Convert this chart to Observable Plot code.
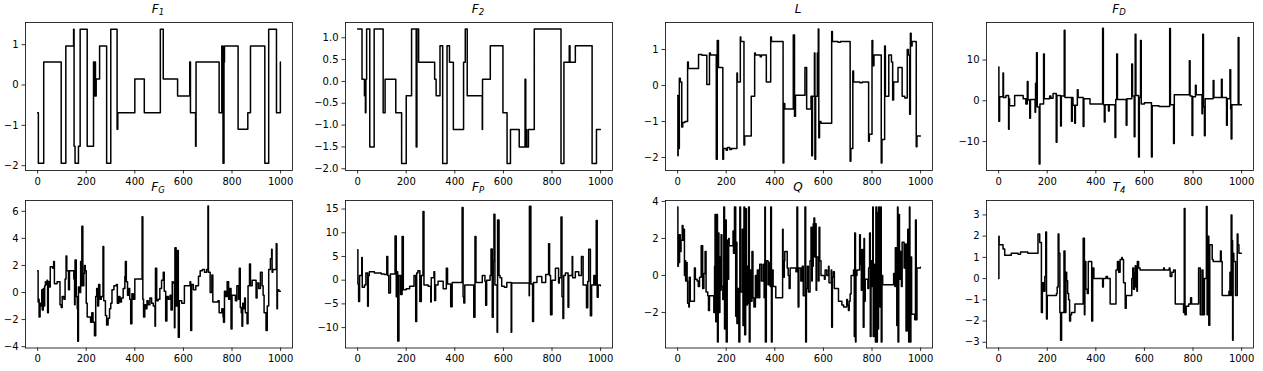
<!DOCTYPE html>
<html><head><meta charset="utf-8">
<script src="https://cdn.jsdelivr.net/npm/d3@7"></script>
<script src="https://cdn.jsdelivr.net/npm/@observablehq/plot@0.6"></script>
<style>
body{margin:0;background:#fff;}
#fig{position:relative;width:1263px;height:371px;overflow:hidden;background:#fff;font-family:"DejaVu Sans",sans-serif;}
.panel{position:absolute;}
.title{position:absolute;width:267px;font-size:12px;line-height:14px;text-align:center;font-family:"DejaVu Sans",sans-serif;color:#000;white-space:nowrap;}
.title i{font-style:italic;}
.title sub{font-size:8.5px;vertical-align:baseline;position:relative;top:2.5px;font-style:italic;}
</style></head><body><div id="fig"></div><script>
// ---------- data: [time, value] breakpoints ----------
const xTicks = [0, 200, 400, 600, 800, 1000];

const F1 = [[0,-0.69],[3,-1.94],[25,0.57],[97,-1.94],[116,0.97],[148,1.38],[150,-1.52],[154,-1.94],[168,-1.52],[175,1.38],[204,-1.52],[230,0.57],[233,-0.27],[236,0.57],[238,-0.27],[241,0.15],[255,0.97],[284,-1.94],[301,1.38],[327,-1.1],[330,-0.69],[400,0.15],[439,-0.69],[505,1.38],[517,0.15],[576,-0.27],[626,0.57],[629,-0.69],[650,-1.52],[652,0.57],[747,-0.69],[758,0.97],[763,-1.94],[767,0.57],[769,0.97],[825,-1.1],[865,-0.69],[876,0.97],[935,-1.94],[951,1.38],[983,-0.69],[999,0.57]];

const F2 = [[0,1.2],[18,0.05],[28,-0.33],[32,-0.72],[34,0.05],[37,1.2],[50,-1.5],[68,1.2],[105,-0.72],[113,0.05],[157,-0.72],[181,-1.88],[200,-0.33],[222,1.2],[241,-1.5],[244,1.2],[251,0.44],[317,0.05],[323,-0.33],[339,0.82],[350,-1.88],[368,0.82],[378,0.44],[394,-1.1],[436,0.44],[443,1.2],[451,-0.33],[513,-1.1],[514,0.05],[546,0.82],[598,-0.72],[615,-1.88],[629,-1.1],[665,-1.5],[689,0.05],[692,-1.5],[694,-1.1],[696,-1.5],[703,-1.1],[727,1.2],[837,-1.88],[849,0.44],[871,0.82],[874,0.44],[896,0.82],[965,-1.88],[983,-1.1],[999,-1.1]];

const L = [[0,-0.28],[1,-1.95],[2,-0.5],[4,-1.75],[7,0.2],[11,0.1],[17,-1.15],[21,-1.03],[30,-1.0],[41,0.65],[44,0.47],[86,0.86],[100,0.84],[120,0.03],[131,0.9],[135,0.85],[159,-2.05],[163,1.25],[168,0.5],[186,-2.05],[189,-1.75],[200,-1.8],[205,-1.72],[215,-1.78],[222,-1.75],[244,0.35],[246,0.1],[258,1.35],[260,1.22],[273,-1.65],[276,-1.4],[303,-0.3],[317,0.9],[320,0.85],[340,0.8],[345,0.85],[365,0.1],[383,1.35],[386,1.22],[434,-2.15],[437,-0.5],[441,-0.65],[476,1.4],[481,-0.85],[485,-0.27],[524,0.5],[531,-0.65],[549,-0.3],[552,-1.95],[555,-0.3],[563,0.9],[565,-2.05],[568,-0.3],[575,0.9],[579,1.57],[581,-1.45],[584,-1.0],[590,-1.05],[634,1.5],[637,1.22],[660,1.2],[670,1.22],[710,-2.1],[713,-1.75],[721,0.4],[724,0.1],[750,0.08],[760,0.1],[786,-1.55],[789,-1.35],[800,1.25],[803,0.55],[808,0.85],[838,-2.15],[841,-1.5],[852,1.1],[855,-0.3],[869,0.85],[880,0.65],[885,-0.4],[889,0.1],[907,0.5],[924,-0.3],[935,-0.35],[945,1.0],[950,0.85],[955,-0.8],[958,1.45],[961,1.1],[965,1.22],[982,-1.7],[985,-1.4],[999,-1.4]];

const FD = [[0,8.3],[1,-5],[4,1],[18,6.8],[20,0.8],[30,1.3],[41,-7],[43,0.5],[45,-1.2],[66,1.3],[101,0.5],[112,-0.8],[118,4.7],[121,0.2],[128,-4.3],[131,0.3],[150,-2.8],[152,4.3],[154,-1.2],[156,11.8],[159,-1.5],[167,-15.5],[170,-0.8],[185,11.5],[188,0.5],[210,1.2],[215,0.6],[224,1.8],[237,-10.2],[240,1.3],[255,-6.2],[258,1.2],[270,17.3],[273,0.8],[300,-5],[303,0.8],[306,-1.1],[313,-5.5],[316,-1.1],[324,2.7],[327,0.8],[348,-6.3],[351,0.5],[376,-0.8],[428,17.8],[431,-1.0],[435,-5.2],[438,-1.0],[452,-2.5],[455,-1.0],[479,-9],[482,0.3],[486,11.5],[489,0.3],[525,-6],[528,0.5],[548,9],[551,1.2],[558,-8.8],[561,1.2],[562,16.3],[565,1.3],[576,-13.8],[579,0.8],[584,14.8],[587,-0.8],[600,-0.5],[629,-13.8],[632,-1.2],[660,-1.4],[704,17.7],[707,-1.0],[720,-10.5],[723,1.5],[785,9.8],[788,1.2],[796,-8.5],[799,1.0],[810,3.8],[813,1.5],[837,-3.2],[839,1.0],[840,16.3],[843,-1.5],[847,-8.6],[850,0.5],[883,5.0],[886,0.8],[917,5.3],[920,0.8],[938,-6],[941,0.5],[952,7.6],[955,-2.0],[957,-9.4],[960,-1.0],[986,15.5],[989,-1.0],[999,-1.0]];

const FG = [[0,1.6],[2,-0.7],[3,-0.5],[6,-1.8],[10,-0.8],[14,-1.0],[17,0.2],[19,-1.3],[23,0.3],[26,-1.0],[29,0.5],[32,0.8],[34,0.6],[39,0.9],[41,-1.5],[44,0.8],[48,0.4],[52,1.9],[62,1.8],[66,2.3],[69,0.65],[80,0.8],[92,-0.9],[97,-1.1],[101,-0.3],[108,-0.5],[113,1.0],[117,2.7],[120,1.6],[127,0.2],[131,1.6],[149,1.0],[152,-0.9],[154,2.4],[159,-0.3],[163,-1.2],[165,-3.6],[168,0.4],[174,0.0],[177,2.3],[179,0.5],[182,4.9],[186,0.5],[190,1.4],[193,2.0],[196,1.6],[200,-0.8],[204,-1.8],[218,-2.2],[223,-1.5],[228,-2.2],[234,-3.2],[239,-0.3],[243,0.3],[247,-1.0],[251,0.6],[256,-0.5],[262,-0.3],[269,3.4],[272,-0.6],[279,-1.7],[284,-2.4],[290,-1.9],[296,-1.2],[301,-0.8],[306,0.2],[314,0.5],[324,0.6],[328,-0.8],[334,-0.3],[339,-0.7],[345,-0.4],[352,0.3],[359,1.2],[361,2.3],[365,0.8],[370,-0.2],[375,0.3],[379,-0.5],[383,-2.3],[388,-0.1],[394,-0.5],[400,1.0],[430,5.6],[433,-0.5],[436,-1.8],[441,-0.9],[445,-1.2],[450,-0.6],[455,-0.9],[462,-0.4],[469,-0.8],[476,-1.0],[483,-2.5],[485,1.8],[490,-0.6],[496,-0.5],[503,0.3],[510,0.9],[517,1.5],[521,0.1],[527,-2.1],[532,-0.3],[538,-0.5],[545,-0.2],[549,-1.3],[554,0.8],[558,0.7],[563,-2.6],[565,3.3],[570,-1.0],[576,3.1],[579,-3.3],[583,-0.6],[593,-0.8],[604,0.5],[627,0.8],[630,-2.8],[634,0.6],[641,0.2],[651,0.5],[662,1.2],[669,1.6],[678,1.7],[687,1.5],[696,1.7],[701,6.4],[703,1.5],[710,0.0],[717,1.3],[721,-0.7],[742,-0.6],[747,-1.5],[758,-1.2],[763,-1.8],[765,-2.2],[769,0.1],[774,-0.3],[780,0.8],[786,-0.5],[791,0.3],[796,-2.7],[800,-0.2],[814,-0.6],[820,0.5],[827,-0.5],[830,1.8],[834,-1.1],[838,-1.5],[841,-2.5],[844,-0.8],[848,-1.2],[852,-0.4],[855,-1.5],[862,-2.3],[866,0.5],[872,2.1],[876,0.5],[883,0.9],[899,-0.4],[903,0.7],[910,0.3],[917,1.5],[924,0.5],[928,-0.2],[932,-1.5],[940,-2.8],[945,-1.0],[951,1.7],[958,2.5],[963,3.2],[965,1.5],[968,1.7],[982,3.6],[985,-1.2],[987,0.2],[993,0.1],[999,0.1]];

const FP = [[0,6.4],[1,-0.8],[4,-4.5],[8,1.0],[17,4.8],[19,-1.5],[28,-1.0],[34,1.5],[41,-5.5],[44,1.0],[48,1.8],[69,1.5],[97,1.3],[110,1.2],[120,5.0],[124,1.0],[128,-2.7],[135,1.3],[154,9.3],[159,-3.5],[161,1.8],[165,-12.8],[170,1.0],[177,-3.0],[183,9.2],[188,-2.0],[200,-1.8],[214,-1.3],[232,1.0],[239,-8.7],[243,1.5],[248,2.0],[256,-4.5],[262,1.0],[269,14.5],[273,-1.0],[290,-1.3],[301,-4.6],[303,0.5],[314,1.8],[317,-4.3],[321,-1.0],[331,-0.2],[352,-1.8],[365,2.5],[370,-0.8],[383,-5.6],[389,-0.5],[430,15.3],[434,-3.5],[437,-4.8],[441,-1.0],[478,-7.8],[483,9.2],[487,-0.5],[513,1.0],[524,-0.3],[527,-5.3],[531,0.0],[545,1.0],[549,6.6],[554,-7.8],[558,4.0],[561,13.9],[565,-1.0],[574,-11],[576,12.7],[582,1.0],[586,0.5],[593,-1.3],[604,-1.5],[614,-0.5],[632,-11],[634,-0.6],[706,-3.3],[707,15.6],[713,-0.8],[720,-8.7],[724,-0.5],[738,0.8],[758,-0.5],[774,1.2],[786,7.7],[790,1.0],[794,-7.3],[800,0.0],[814,2.5],[827,-0.6],[830,0.5],[837,13.3],[841,-3.5],[845,-8.1],[848,1.0],[855,1.5],[866,-5.7],[869,1.0],[883,5.0],[885,0.5],[896,1.8],[910,1.0],[921,5.0],[928,-1.0],[942,-5.8],[947,-0.3],[951,6.5],[958,-7.5],[963,-1.0],[972,1.0],[976,-1.0],[982,12.6],[986,-3.6],[990,-1.0],[999,-1.2]];

const Q = [[0,3.7],[1,0.5],[3,2.2],[6,0.7],[8,2.2],[11,1.3],[14,1.9],[19,2.7],[22,1.9],[25,2.5],[28,0.0],[30,0.8],[33,-0.3],[36,0.7],[39,-0.3],[41,-1.5],[46,-1.7],[48,-0.1],[52,-1.4],[69,0.4],[73,-0.2],[80,-0.3],[85,-0.6],[90,-0.1],[97,1.6],[103,-0.7],[108,0.1],[113,1.3],[117,-0.9],[124,-1.1],[127,-1.9],[131,-1.1],[149,-2.0],[152,0.5],[154,3.3],[157,-2.5],[160,3.3],[164,-3.6],[167,2.3],[170,-2.0],[174,1.0],[177,-0.8],[179,2.2],[182,-0.6],[186,-1.3],[190,3.7],[193,-2.9],[196,3.0],[200,-3.6],[204,1.9],[207,-0.2],[210,2.0],[212,1.6],[228,2.4],[230,1.2],[234,3.7],[239,-2.2],[241,1.8],[244,-2.6],[248,-0.7],[252,-3.6],[256,3.7],[259,-0.9],[266,2.5],[269,-2.7],[273,3.7],[276,-3.2],[280,3.6],[283,-1.6],[287,0.5],[290,-1.5],[292,3.7],[295,-3.6],[298,0.3],[301,-1.4],[306,1.3],[310,-1.2],[314,-1.7],[320,0.0],[324,-1.2],[328,0.3],[334,-1.2],[338,0.6],[345,-0.3],[352,0.6],[356,-1.2],[359,3.7],[361,-3.6],[365,0.8],[372,-0.5],[376,0.7],[381,-0.6],[383,3.7],[386,-3.6],[389,0.3],[393,-0.6],[404,-1.2],[432,2.5],[434,-0.1],[439,0.8],[441,1.3],[451,0.4],[455,0.0],[459,-0.7],[463,0.4],[487,0.2],[491,3.7],[494,0.4],[496,-1.7],[499,0.4],[507,-0.3],[513,0.5],[517,-1.1],[524,3.7],[527,-3.6],[530,-0.7],[534,0.5],[538,-0.9],[545,0.8],[549,2.6],[552,-0.3],[554,0.5],[558,2.8],[561,3.1],[564,1.0],[567,2.8],[570,-0.8],[572,1.0],[579,-0.3],[582,2.6],[585,0.8],[590,0.0],[604,-0.2],[607,0.3],[614,0.0],[621,0.5],[623,-0.4],[632,0.3],[634,-2.8],[637,-0.1],[641,0.2],[645,-0.7],[662,-1.4],[676,-1.6],[683,-1.7],[696,-1.3],[699,-1.6],[703,-1.9],[706,-1.4],[710,-1.0],[714,0.0],[724,0.3],[727,-3.3],[729,2.3],[732,-3.6],[734,0.0],[738,0.3],[749,2.2],[752,0.6],[756,-0.8],[758,1.4],[764,-2.8],[767,2.0],[769,-1.4],[772,-0.2],[783,-0.7],[786,0.4],[790,2.3],[793,-3.3],[796,0.8],[800,-0.6],[803,3.7],[805,-3.3],[808,0.6],[811,-0.7],[814,-3.6],[816,3.7],[819,-3.6],[822,3.4],[825,-2.9],[827,3.7],[830,-0.4],[833,-1.7],[836,3.7],[838,-3.6],[841,0.0],[844,-0.5],[889,0.1],[894,-0.6],[896,1.5],[902,-2.7],[905,3.7],[907,-3.6],[910,3.3],[913,-0.2],[917,1.3],[921,-0.6],[924,1.8],[932,0.4],[938,1.7],[940,-3.0],[945,1.7],[947,2.5],[951,-3.6],[954,3.7],[956,-3.6],[960,1.0],[963,-2.1],[976,-2.4],[979,3.0],[982,-2.4],[985,0.4],[999,0.45]];

const T4 = [[0,0.0],[1,2.0],[2,1.6],[18,1.4],[25,1.1],[52,1.2],[80,1.15],[90,1.25],[120,1.2],[162,2.1],[169,1.7],[176,-1.6],[180,-0.2],[186,-0.6],[190,0.1],[194,2.2],[197,-1.9],[200,-0.8],[238,-0.7],[241,-0.4],[245,2.1],[248,1.2],[252,-1.6],[255,-2.9],[259,-1.6],[269,1.3],[273,-1.6],[277,0.3],[280,-0.1],[284,-0.7],[288,-1.0],[292,-2.0],[296,-1.7],[300,-1.6],[314,-1.2],[348,1.9],[353,-1.7],[355,0.8],[359,-0.5],[365,-0.7],[369,0.8],[383,-2.0],[387,0.5],[392,0.0],[428,-0.4],[431,0.0],[442,0.1],[448,0.0],[459,-1.2],[483,0.4],[489,0.8],[494,0.3],[500,0.9],[507,1.0],[509,0.9],[514,-0.2],[521,-1.4],[525,-0.8],[548,0.0],[552,0.5],[555,-0.5],[559,0.3],[562,0.6],[565,-0.4],[569,-0.6],[571,0.8],[576,0.5],[582,0.4],[679,0.5],[682,0.4],[702,0.5],[705,0.4],[706,0.1],[713,0.3],[720,0.4],[727,-1.2],[761,-1.6],[764,3.3],[767,-1.7],[772,-1.3],[782,-1.2],[790,-0.9],[794,-1.2],[823,0.5],[830,-1.7],[837,0.4],[841,-1.7],[847,0.0],[855,3.4],[858,-1.7],[861,2.0],[865,-2.2],[869,1.6],[879,0.9],[883,0.8],[913,1.3],[916,0.8],[920,-0.8],[948,-0.6],[952,0.3],[954,-0.8],[957,3.0],[960,1.8],[963,-2.9],[965,1.2],[968,0.8],[975,-0.8],[982,2.1],[985,1.6],[989,1.2],[999,1.2]];

// ---------- panel definitions ----------
const panels = [
  {data: F1, main: "F", sub: "1", domain: [-2.12, 1.55], ticks: [-2, -1, 0, 1], fmt: "d"},
  {data: F2, main: "F", sub: "2", domain: [-2.04, 1.35], ticks: [-2, -1.5, -1, -0.5, 0, 0.5, 1], fmt: ".1f"},
  {data: L, main: "L", sub: "", domain: [-2.36, 1.75], ticks: [-2, -1, 0, 1], fmt: "d"},
  {data: FD, main: "F", sub: "D", domain: [-17.1, 19.2], ticks: [-10, 0, 10], fmt: "d"},
  {data: FG, main: "F", sub: "G", domain: [-4.1, 6.8], ticks: [-4, -2, 0, 2, 4, 6], fmt: "d"},
  {data: FP, main: "F", sub: "P", domain: [-14.3, 16.8], ticks: [-10, -5, 0, 5, 10, 15], fmt: "d"},
  {data: Q, main: "Q", sub: "", domain: [-3.92, 4.05], ticks: [-2, 0, 2, 4], fmt: "d"},
  {data: T4, main: "T", sub: "4", domain: [-3.27, 3.68], ticks: [-3, -2, -1, 0, 1, 2, 3], fmt: "d"}
];

const colLeft = [24.5, 344.5, 664.5, 985.5];
const rowTop = [21.5, 199.5];
const rowH = [148, 147.5];
const frameW = 267;
const mL = 45, mR = 10, mT = 5, mB = 25;

const fig = document.getElementById("fig");
panels.forEach((p, i) => {
  const col = i % 4, row = Math.floor(i / 4);
  const left = colLeft[col], top = rowTop[row], h = rowH[row];
  const chart = Plot.plot({
    width: mL + frameW + mR,
    height: mT + h + mB,
    marginLeft: mL, marginRight: mR, marginTop: mT, marginBottom: mB,
    style: {fontFamily: "DejaVu Sans, sans-serif", fontSize: "10px", color: "#000", background: "transparent", overflow: "visible"},
    x: {domain: [-49.95, 1048.95]},
    y: {domain: p.domain},
    marks: [
      Plot.line(p.data, {x: d => d[0], y: d => d[1], curve: "step-after", stroke: "#000", strokeWidth: 1.5}),
      Plot.axisX({ticks: xTicks, tickSize: 3.5, tickPadding: 3.5, tickFormat: d3.format("d"), label: null, stroke: "#000", strokeWidth: 0.8, fill: "#000"}),
      Plot.axisY({ticks: p.ticks, tickSize: 3.5, tickPadding: 3.5, tickFormat: d3.format(p.fmt), label: null, stroke: "#000", strokeWidth: 0.8, fill: "#000"}),
      Plot.frame({stroke: "#000", strokeWidth: 0.8})
    ]
  });
  chart.classList.add("panel");
  chart.style.left = (left - mL) + "px";
  chart.style.top = (top - mT) + "px";
  chart.style.maxWidth = "none";
  fig.appendChild(chart);

  const t = document.createElement("div");
  t.className = "title";
  t.style.left = left + "px";
  t.style.top = (top - 20) + "px";
  t.innerHTML = `<i>${p.main}</i>` + (p.sub ? `<sub>${p.sub}</sub>` : "");
  fig.appendChild(t);
});
</script></body></html>
